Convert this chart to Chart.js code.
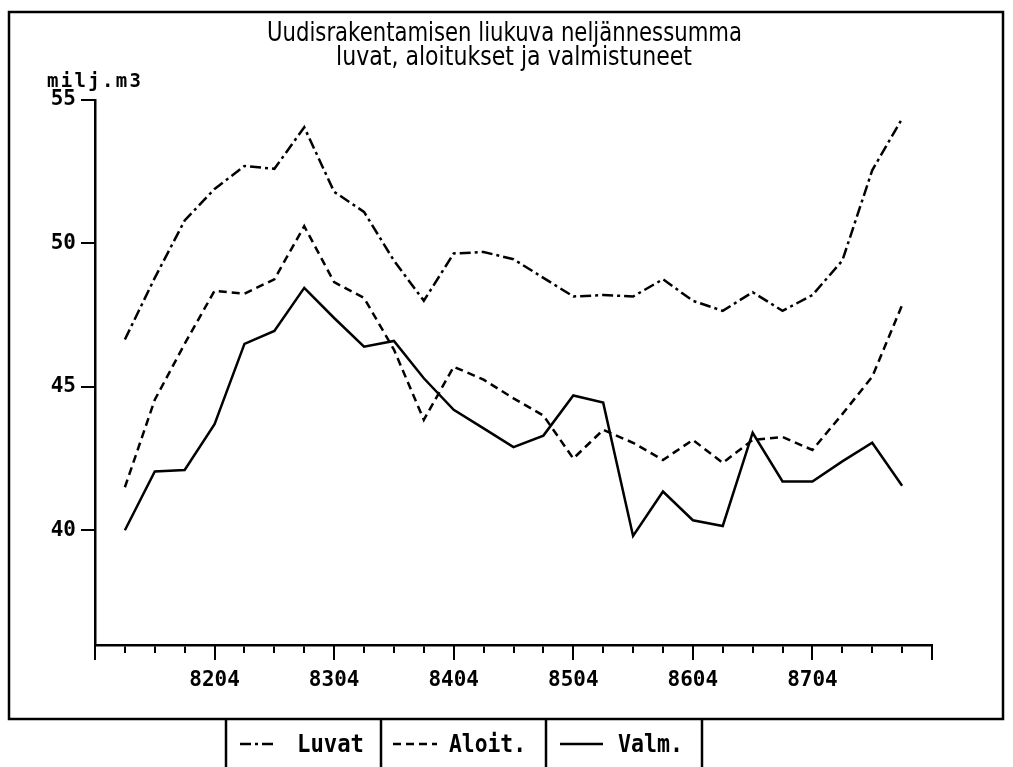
<!DOCTYPE html>
<html>
<head>
<meta charset="utf-8">
<script src="https://cdn.jsdelivr.net/npm/chart.js@4/dist/chart.umd.min.js"></script>
<style>
html,body{margin:0;padding:0;background:#fff;}
canvas{display:block;}
</style>
</head>
<body>
<canvas id="c" width="1013" height="767"></canvas>
<script>
// ---- data ----
const titleLines = ['Uudisrakentamisen liukuva neljännessumma', 'luvat, aloitukset ja valmistuneet'];
const unitLabel = 'milj.m3';
const quarters = ['8201','8202','8203','8204','8301','8302','8303','8304','8401','8402','8403','8404',
                  '8501','8502','8503','8504','8601','8602','8603','8604','8701','8702','8703','8704',
                  '8801','8802','8803'];
const axisStart = '8104';
const axisEnd = '8804';
const yTicks = [40, 45, 50, 55];
const yMin = 36;
const yMax = 55;
const seriesNames = ['Luvat', 'Aloit.', 'Valm.'];
const luvat = [46.65, 48.8, 50.8, 51.9, 52.7, 52.6, 54.05, 51.8, 51.1, 49.4, 48.0, 49.65,
               49.7, 49.45, 48.8, 48.15, 48.2, 48.15, 48.75, 48.0, 47.65, 48.3, 47.65, 48.2,
               49.4, 52.55, 54.35];
const aloit = [41.5, 44.55, 46.5, 48.35, 48.25, 48.75, 50.6, 48.65, 48.1, 46.3, 43.85, 45.7,
               45.25, 44.6, 44.0, 42.5, 43.5, 43.05, 42.45, 43.15, 42.35, 43.15, 43.25, 42.8,
               44.05, 45.35, 47.85];
const valm = [40.0, 42.05, 42.1, 43.7, 46.5, 46.95, 48.45, 47.4, 46.4, 46.6, 45.3, 44.2,
              43.55, 42.9, 43.3, 44.7, 44.45, 39.8, 41.35, 40.35, 40.15, 43.4, 41.7, 41.7,
              42.4, 43.05, 41.55];

// ---- styles ----
const dashes = [[11, 4, 3, 4], [8, 5], []];
const monoFont = '"DejaVu Sans Mono", "Liberation Mono", monospace';

const labels = [axisStart, ...quarters, axisEnd];
const pad = arr => [null, ...arr, null];
const seriesData = [luvat, aloit, valm];

const decorPlugin = {
  id: 'decor',
  afterDraw(chart) {
    const ctx = chart.ctx;
    ctx.save();
    ctx.strokeStyle = '#000';
    ctx.fillStyle = '#000';
    // outer frame
    ctx.lineWidth = 2.5;
    ctx.setLineDash([]);
    ctx.strokeRect(9, 12, 994, 707);
    // title
    ctx.font = '26px "DejaVu Sans", sans-serif';
    ctx.textAlign = 'center';
    ctx.textBaseline = 'alphabetic';
    ctx.fillText(titleLines[0], 504.5, 41, 475);
    ctx.fillText(titleLines[1], 514, 65, 356);
    // unit label
    ctx.textAlign = 'left';
    ctx.font = 'bold 19px ' + monoFont;
    try { ctx.letterSpacing = '2.3px'; } catch (e) {}
    ctx.fillText(unitLabel, 47, 87);
    try { ctx.letterSpacing = '0px'; } catch (e) {}
    // legend box
    const dividers = [226, 381, 546, 702];
    ctx.lineWidth = 2.5;
    dividers.forEach(x => {
      ctx.beginPath();
      ctx.moveTo(x, 719);
      ctx.lineTo(x, 767);
      ctx.stroke();
    });
    const samples = [[240, 275], [393, 437], [560, 603]];
    const textX = [297, 449, 618];
    const textW = [67, 77, 65];
    ctx.font = 'bold 24px ' + monoFont;
    for (let i = 0; i < 3; i++) {
      ctx.lineWidth = 2.5;
      ctx.setLineDash(dashes[i]);
      ctx.beginPath();
      ctx.moveTo(samples[i][0], 744);
      ctx.lineTo(samples[i][1], 744);
      ctx.stroke();
      ctx.setLineDash([]);
      ctx.fillText(seriesNames[i], textX[i], 752, textW[i]);
    }
    ctx.restore();
  }
};

new Chart(document.getElementById('c'), {
  type: 'line',
  data: {
    labels: labels,
    datasets: seriesData.map((d, i) => ({
      label: seriesNames[i],
      data: pad(d),
      borderColor: '#000',
      backgroundColor: '#000',
      borderWidth: 2.5,
      borderDash: dashes[i],
      borderCapStyle: 'butt',
      pointRadius: 0,
      tension: 0,
      fill: false,
      xAxisID: 'x',
      yAxisID: 'y'
    }))
  },
  options: {
    responsive: false,
    animation: false,
    devicePixelRatio: 1,
    layout: { padding: { left: 0, right: 81, top: 100, bottom: 72 } },
    plugins: {
      legend: { display: false },
      title: { display: false },
      tooltip: { enabled: false }
    },
    scales: {
      x: {
        type: 'category',
        position: 'bottom',
        offset: false,
        weight: 0,
        grid: { display: true, drawOnChartArea: false, drawTicks: true, tickLength: 8, color: '#000', lineWidth: 2 },
        border: { display: true, color: '#000', width: 2.5 },
        ticks: { display: false, autoSkip: false },
        afterFit(s) { s.height = 0; }
      },
      x2: {
        type: 'category',
        labels: labels,
        position: 'bottom',
        offset: false,
        weight: 1,
        grid: { display: true, drawOnChartArea: false, drawTicks: true, tickLength: 15, color: '#000', lineWidth: 2 },
        border: { display: false },
        ticks: {
          autoSkip: false,
          maxRotation: 0,
          padding: 8,
          color: '#000',
          font: { family: monoFont, size: 21, weight: 'bold' },
          callback(value) {
            if (value === 0 || value === labels.length - 1) return '';
            return labels[value];
          }
        },
        afterBuildTicks(s) {
          s.ticks = labels.map((l, i) => ({ value: i })).filter(t => labels[t.value].endsWith('04'));
        },
        afterFit(s) { s.height = 50; }
      },
      y: {
        type: 'linear',
        position: 'left',
        min: yMin,
        max: yMax,
        grid: { display: true, drawOnChartArea: false, drawTicks: true, tickLength: 14, color: '#000', lineWidth: 2 },
        border: { display: true, color: '#000', width: 2.5 },
        ticks: {
          padding: 5,
          color: '#000',
          font: { family: monoFont, size: 21, weight: 'bold' }
        },
        afterBuildTicks(s) { s.ticks = yTicks.map(v => ({ value: v })); },
        afterFit(s) { s.width = 95; }
      }
    }
  },
  plugins: [decorPlugin]
});
</script>
</body>
</html>
